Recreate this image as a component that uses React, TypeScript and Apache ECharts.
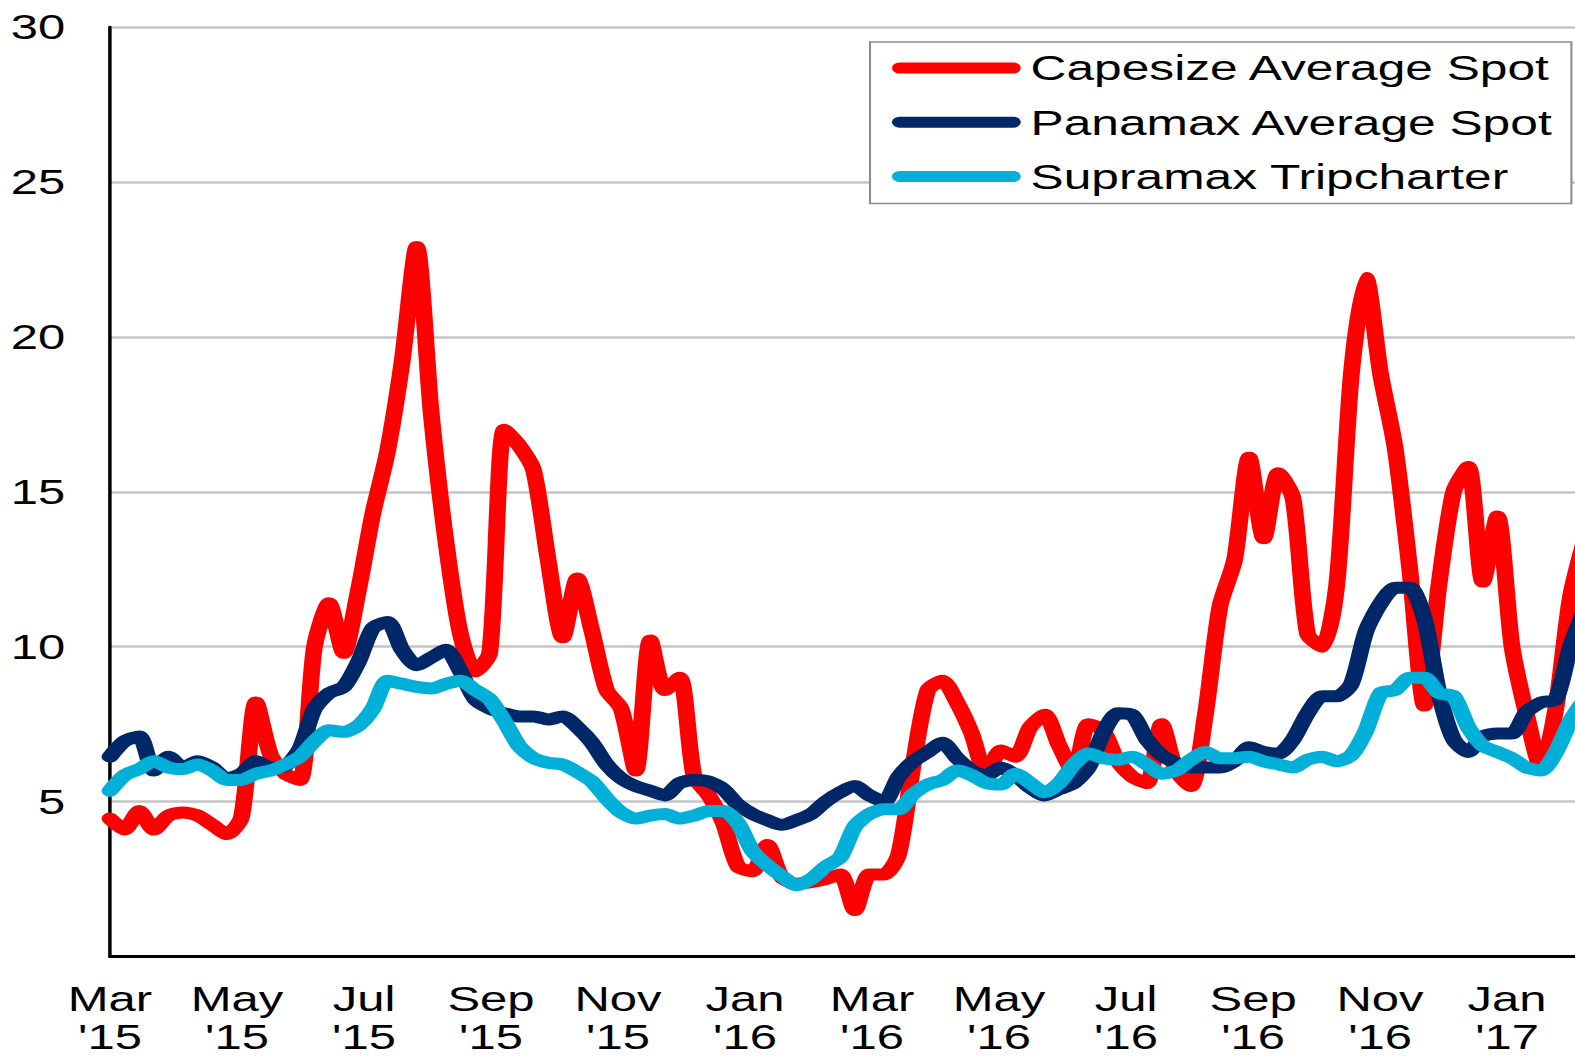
import React, { useEffect, useRef } from "react";
import * as echarts from "echarts";

// Horizontal stretch of the reference picture
const STRETCH = 1.4;
const OUTER_W = 1575;
const OUTER_H = 1056;
const INNER_W = OUTER_W / STRETCH;

const SERIES_NAMES = ["Capesize Average Spot", "Panamax Average Spot", "Supramax Tripcharter"];
const SERIES_COLORS = ["#ff0000", "#002868", "#00b0d8"];

// Weekly observations starting 1 March 2015
const DAYS_PER_WEEK = 7;
const AVG_DAYS_PER_MONTH = 30.4375;

const capesize = [
  4.45, 4.1, 4.7, 4.1, 4.55, 4.65, 4.55, 4.25, 3.95, 4.5,
  8.2, 6.5, 5.9, 5.7, 10.0, 11.4, 9.8, 11.8, 14.3, 16.3,
  19.2, 22.9, 17.5, 13.4, 10.4, 9.2, 9.8, 17.0, 16.5, 15.7,
  12.8, 10.3, 12.2, 10.5, 8.6, 8.0, 6.0, 10.2, 8.6, 9.0,
  5.8, 5.2, 4.3, 2.9, 2.75, 3.6, 2.55, 2.35, 2.4, 2.5,
  2.65, 1.5, 2.65, 2.65, 3.3, 6.2, 8.6, 8.9, 8.2, 7.2,
  5.9, 6.65, 6.45, 7.4, 7.8, 6.8, 5.95, 7.5, 7.3, 6.3,
  5.8, 5.6, 7.5, 6.0, 5.5, 7.8, 11.3, 12.8, 16.1, 13.5,
  15.6, 14.8, 10.4, 10.0, 12.0, 18.8, 21.9, 18.8, 16.4, 12.5,
  8.1, 12.0, 15.0, 15.8, 12.1, 14.2, 10.0, 7.8, 6.1, 8.0,
  11.6, 13.5,
];

const panamax = [
  6.45, 6.95, 7.1, 6.0, 6.45, 6.1, 6.3, 6.1, 5.75, 5.9,
  6.3, 6.1, 6.15, 6.7, 8.0, 8.5, 8.7, 9.5, 10.6, 10.8,
  9.9, 9.4, 9.65, 9.9, 9.2, 8.3, 8.0, 7.85, 7.75, 7.75,
  7.65, 7.75, 7.4, 6.9, 6.2, 5.75, 5.5, 5.35, 5.2, 5.6,
  5.7, 5.65, 5.4, 4.9, 4.6, 4.4, 4.25, 4.4, 4.6, 5.0,
  5.3, 5.5, 5.2, 5.0, 5.8, 6.3, 6.6, 6.9, 6.4, 6.0,
  5.85, 6.1, 5.85, 5.45, 5.2, 5.4, 5.6, 6.1, 7.2, 7.85,
  7.8, 7.0, 6.5, 6.25, 6.1, 6.1, 6.1, 6.3, 6.75, 6.6,
  6.55, 7.0, 7.85, 8.4, 8.4, 8.8, 10.5, 11.4, 11.9, 11.9,
  10.9, 8.5, 7.0, 6.6, 7.1, 7.2, 7.2, 7.9, 8.2, 8.3,
  10.0, 11.2,
];

const supramax = [
  5.35, 5.85, 6.05, 6.3, 6.1, 6.05, 6.2, 6.0, 5.7, 5.7,
  5.9, 6.0, 6.2, 6.45, 6.95, 7.3, 7.25, 7.45, 8.0, 8.9,
  8.8, 8.7, 8.65, 8.8, 8.9, 8.6, 8.3, 7.6, 6.8, 6.4,
  6.25, 6.2, 5.95, 5.65, 5.1, 4.65, 4.45, 4.55, 4.6, 4.45,
  4.55, 4.7, 4.7, 4.3, 3.4, 2.95, 2.6, 2.3, 2.5, 2.9,
  3.2, 4.2, 4.6, 4.75, 4.75, 5.25, 5.55, 5.7, 6.0, 5.85,
  5.6, 5.55, 5.9, 5.6, 5.3, 5.6, 6.2, 6.55, 6.4, 6.35,
  6.45, 6.2, 5.9, 6.0, 6.35, 6.6, 6.4, 6.4, 6.45, 6.3,
  6.2, 6.1, 6.35, 6.45, 6.3, 6.5, 7.3, 8.5, 8.6, 9.0,
  9.0, 8.5, 8.4, 7.4, 6.8, 6.6, 6.4, 6.1, 6.0, 6.6,
  7.6, 8.3,
];

// One label every two months, starting March 2015
const xTickLabels = [
  "Mar\n'15", "May\n'15", "Jul\n'15", "Sep\n'15", "Nov\n'15", "Jan\n'16",
  "Mar\n'16", "May\n'16", "Jul\n'16", "Sep\n'16", "Nov\n'16", "Jan\n'17",
];

const Y_MIN = 0;
const Y_MAX = 30;
const Y_STEP = 5;
const X_MAX_MONTHS = 23.07;

// Axis position (in months since 1 March 2015) of week i
function monthPosition(weekIndex: number): number {
  return (weekIndex * DAYS_PER_WEEK) / AVG_DAYS_PER_MONTH;
}

function toPairs(values: number[]): [number, number][] {
  return values.map((v, i) => [monthPosition(i), v]);
}

const FONT = "'Liberation Sans', Arial, Helvetica, sans-serif";

export default function App() {
  const ref = useRef<HTMLDivElement>(null);

  useEffect(() => {
    if (!ref.current) return;
    const chart = echarts.init(ref.current, undefined, { renderer: "svg" });
    const allValues = [capesize, panamax, supramax];

    chart.setOption({
      animation: false,
      backgroundColor: "#ffffff",
      grid: {
        left: 110 / STRETCH,
        right: 0,
        top: 27,
        bottom: 97.5,
        containLabel: false,
      },
      legend: {
        orient: "vertical",
        left: 870 / STRETCH,
        top: 42,
        padding: [6, 12, 7, 15.7],
        itemGap: 14.2,
        itemWidth: 92,
        itemHeight: 11,
        icon: "path://M5.5,0 L86.5,0 A5.5,5.5 0 0 1 86.5,11 L5.5,11 A5.5,5.5 0 0 1 5.5,0 Z",
        borderColor: "#8c8c8c",
        borderWidth: 1.5,
        backgroundColor: "#ffffff",
        itemStyle: { borderWidth: 0 },
        textStyle: {
          fontFamily: FONT,
          fontSize: 35.5,
          color: "#000000",
          lineHeight: 40,
          padding: [0, 0, 0, 2],
        },
        data: SERIES_NAMES,
      },
      xAxis: {
        type: "value",
        min: 0,
        max: X_MAX_MONTHS,
        interval: 2,
        axisLine: { show: true, lineStyle: { color: "#000000", width: 3 } },
        axisTick: { show: false },
        splitLine: { show: false },
        axisLabel: {
          margin: 23.5,
          fontFamily: FONT,
          fontSize: 35,
          lineHeight: 38,
          color: "#000000",
          align: "center",
          showMaxLabel: false,
          formatter: (v: number) => {
            const k = Math.round(v);
            if (Math.abs(v - k) > 1e-6 || k % 2 !== 0) return "";
            return xTickLabels[k / 2] ?? "";
          },
        },
      },
      yAxis: {
        type: "value",
        min: Y_MIN,
        max: Y_MAX,
        interval: Y_STEP,
        axisLine: { show: true, lineStyle: { color: "#000000", width: 2.5 } },
        axisTick: { show: false },
        splitLine: { show: true, lineStyle: { color: "#c4c4c4", width: 2.5 } },
        axisLabel: {
          margin: 32,
          fontFamily: FONT,
          fontSize: 35,
          color: "#000000",
          formatter: (v: number) => (v === 0 ? "" : String(v)),
        },
      },
      series: SERIES_NAMES.map((name, idx) => ({
        name,
        type: "line",
        data: toPairs(allValues[idx]),
        showSymbol: false,
        symbol: "none",
        smooth: 0.25,
        color: SERIES_COLORS[idx],
        lineStyle: {
          color: SERIES_COLORS[idx],
          width: 12,
          cap: "round",
          join: "round",
        },
        itemStyle: { color: SERIES_COLORS[idx] },
        z: 2 + idx,
      })),
    });

    return () => chart.dispose();
  }, []);

  return (
    <div
      style={{
        position: "fixed",
        left: 0,
        top: 0,
        width: OUTER_W,
        height: OUTER_H,
        overflow: "hidden",
        background: "#ffffff",
      }}
    >
      <div
        ref={ref}
        style={{
          width: INNER_W,
          height: OUTER_H,
          transform: `scaleX(${STRETCH})`,
          transformOrigin: "0 0",
        }}
      />
    </div>
  );
}
